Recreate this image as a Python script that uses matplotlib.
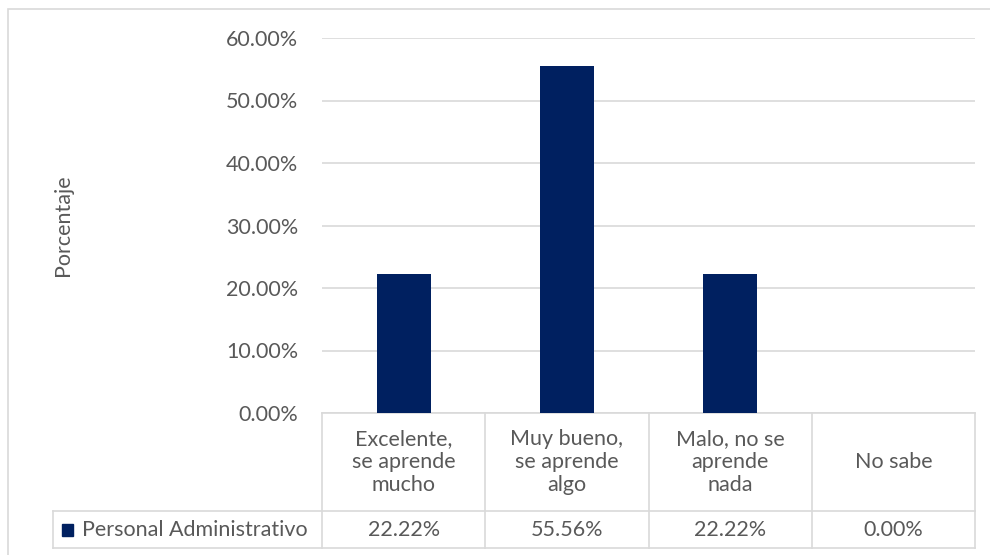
import matplotlib
matplotlib.use("Agg")
import matplotlib.pyplot as plt
from matplotlib.patches import Rectangle
from matplotlib.lines import Line2D

categories = ["Excelente,\nse aprende\nmucho", "Muy bueno,\nse aprende\nalgo", "Malo, no se\naprende\nnada", "No sabe"]
values = [22.22, 55.56, 22.22, 0.00]
series_name = "Personal Administrativo"
yticks = [0, 10, 20, 30, 40, 50, 60]

BAR = "#002060"
GRID = "#D9D9D9"
TXT = "#595959"
FONT = "Lato"
FS = 15.5

W, H = 990, 555
fig = plt.figure(figsize=(W / 100, H / 100), dpi=100)

def fx(px):
    return px / W

def fy(py):
    return 1 - py / H

# outer border
fig.add_artist(Rectangle((fx(8), fy(558)), fx(990) - fx(8) + 0.01, fy(9) - fy(558),
                         transform=fig.transFigure, fill=False, edgecolor=GRID, lw=1.2))

ax = fig.add_axes([fx(322), fy(413), fx(975) - fx(322), fy(38) - fy(413)])
x = list(range(len(categories)))
ax.bar(x, values, width=0.33, color=BAR, zorder=3)
ax.set_xlim(-0.5, len(categories) - 0.5)
ax.set_ylim(0, 60)
ax.set_yticks(yticks)
ax.set_yticklabels([f"{v:.2f}%" for v in yticks], fontsize=FS, color=TXT, family=FONT)
ax.tick_params(axis="y", length=0, pad=17)
ax.tick_params(axis="x", length=0, labelbottom=False)
ax.grid(axis="y", color=GRID, lw=1.2, zorder=0)
for s in ["top", "right", "left"]:
    ax.spines[s].set_visible(False)
ax.spines["bottom"].set_color(GRID)
ax.spines["bottom"].set_linewidth(1.2)
ax.set_ylabel("Porcentaje", fontsize=FS, color=TXT, family=FONT, labelpad=0)
ax.yaxis.set_label_coords((73 - 322) / (975 - 322), 0.5)

# data table
def line(x0, y0, x1, y1):
    fig.add_artist(Line2D([fx(x0), fx(x1)], [fy(y0), fy(y1)], transform=fig.transFigure,
                          color=GRID, lw=1.2))

col_edges = [322 + i * (975 - 322) / len(categories) for i in range(len(categories) + 1)]
top, mid, bot = 413, 511, 548
line(53, mid, 975, mid)
line(53, bot, 975, bot)
line(53, mid, 53, bot)
for e in col_edges:
    line(e, top, e, bot)

for i, (c, v) in enumerate(zip(categories, values)):
    cx = (col_edges[i] + col_edges[i + 1]) / 2
    fig.text(fx(cx), fy((top + mid) / 2), c, ha="center", va="center", fontsize=FS,
             color=TXT, family=FONT, linespacing=1.2)
    fig.text(fx(cx), fy((mid + bot) / 2), f"{v:.2f}%", ha="center", va="center",
             fontsize=FS, color=TXT, family=FONT)

fig.add_artist(Rectangle((fx(62), fy(536)), fx(11), fy(524) - fy(536),
                         transform=fig.transFigure, color=BAR))
fig.text(fx(82), fy((mid + bot) / 2), series_name, ha="left", va="center", fontsize=FS,
         color=TXT, family=FONT)

fig.savefig("out.png", dpi=100)
